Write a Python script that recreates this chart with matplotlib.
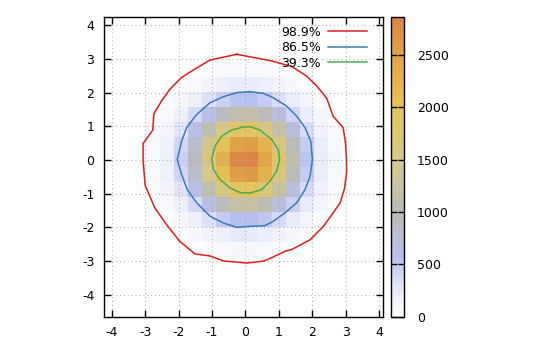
import numpy as np
import matplotlib
matplotlib.use("Agg")
import matplotlib.pyplot as plt
from matplotlib.colors import LinearSegmentedColormap

plt.rcParams['font.family'] = ['DejaVu Sans']
plt.rcParams['axes.unicode_minus'] = False

# histogram range (data extent) and 20x20 bin counts, rows from bottom (low y) to top
x_range = (-4.229, 4.119)
y_range = (-4.654, 4.256)
counts_rows = [
    [0, 0, 0, 0, 0, 0, 0, 0, 0, 1, 0, 0, 0, 0, 0, 0, 0, 0, 0, 0],
    [0, 0, 0, 0, 0, 0, 0, 1, 1, 2, 1, 1, 0, 0, 0, 0, 0, 0, 0, 0],
    [0, 0, 0, 0, 0, 1, 2, 3, 5, 4, 6, 4, 3, 1, 1, 0, 0, 0, 0, 0],
    [0, 0, 0, 1, 2, 4, 9, 14, 18, 24, 22, 21, 14, 10, 4, 2, 1, 0, 0, 0],
    [0, 0, 1, 2, 6, 14, 27, 47, 71, 82, 88, 70, 55, 31, 17, 7, 2, 1, 0, 0],
    [0, 0, 2, 6, 15, 40, 79, 141, 196, 247, 251, 211, 158, 92, 48, 20, 8, 2, 0, 0],
    [0, 1, 4, 13, 40, 94, 199, 338, 493, 590, 612, 521, 381, 226, 118, 49, 17, 5, 1, 0],
    [0, 2, 8, 27, 76, 191, 385, 675, 958, 1180, 1193, 1035, 739, 452, 226, 101, 34, 10, 3, 0],
    [1, 3, 13, 42, 127, 306, 641, 1091, 1583, 1914, 1968, 1681, 1224, 731, 375, 160, 57, 18, 4, 1],
    [1, 4, 17, 58, 165, 414, 842, 1466, 2093, 2561, 2604, 2252, 1612, 983, 491, 217, 76, 22, 5, 1],
    [1, 4, 18, 62, 185, 449, 932, 1597, 2307, 2812, 2868, 2457, 1781, 1069, 547, 233, 85, 26, 6, 1],
    [1, 4, 16, 57, 162, 407, 826, 1439, 2055, 2517, 2558, 2211, 1584, 964, 484, 214, 74, 23, 5, 1],
    [1, 3, 12, 40, 122, 296, 618, 1054, 1527, 1849, 1897, 1622, 1179, 706, 362, 154, 57, 16, 4, 1],
    [0, 2, 7, 24, 74, 177, 371, 632, 917, 1108, 1140, 974, 709, 423, 218, 92, 34, 9, 2, 0],
    [0, 1, 4, 12, 35, 90, 182, 320, 452, 558, 563, 491, 349, 215, 106, 48, 16, 5, 1, 0],
    [0, 0, 1, 5, 14, 37, 73, 129, 181, 226, 225, 198, 139, 86, 44, 18, 7, 2, 0, 0],
    [0, 0, 0, 2, 5, 11, 25, 41, 62, 71, 77, 63, 47, 27, 15, 6, 2, 1, 0, 0],
    [0, 0, 0, 0, 1, 3, 7, 11, 18, 21, 20, 17, 14, 8, 4, 2, 0, 0, 0, 0],
    [0, 0, 0, 0, 0, 1, 1, 3, 4, 5, 4, 4, 2, 2, 1, 0, 0, 0, 0, 0],
    [0, 0, 0, 0, 0, 0, 0, 1, 1, 1, 1, 0, 1, 0, 0, 0, 0, 0, 0, 0],
]

# contour paths (data coordinates)
c989_x = [-0.26, 0.05, 0.75, 1.38, 1.83, 2.13, 2.43, 2.62, 2.92, 2.99, 3.02, 3.02, 2.96, 2.83, 2.62,
          2.33, 1.93, 1.38, 1.18, 0.83, 0.55, 0.05, -0.65, -1.06, -1.51, -1.96, -2.36, -2.71, -3.00,
          -3.06, -3.06, -2.77, -2.74, -2.51, -2.26, -1.91, -1.56, -1.06, -0.26]
c989_y = [3.14, 3.08, 2.95, 2.78, 2.49, 2.20, 1.83, 1.30, 0.96, 0.50, 0.00, -0.38, -0.85, -1.27, -1.57,
          -1.97, -2.37, -2.66, -2.71, -2.88, -3.00, -3.06, -3.00, -2.85, -2.79, -2.42, -1.92, -1.42, -0.75,
          0.00, 0.49, 0.89, 1.37, 1.75, 2.10, 2.45, 2.67, 2.97, 3.14]
c865_x = [0.13, 0.53, 0.83, 1.23, 1.53, 1.78, 1.95, 2.00, 1.93, 1.78, 1.53, 1.18, 0.83, 0.58, 0.13,
          -0.26, -0.66, -1.06, -1.46, -1.74, -1.91, -2.04, -1.91, -1.76, -1.46, -1.06, -0.66, -0.26, 0.13]
c865_y = [2.03, 1.98, 1.85, 1.60, 1.30, 0.96, 0.56, 0.01, -0.48, -0.88, -1.27, -1.57, -1.82, -1.95, -1.97,
          -2.00, -1.87, -1.67, -1.27, -0.88, -0.43, 0.01, 0.56, 0.96, 1.35, 1.70, 1.88, 2.00, 2.03]
c393_x = [-0.11, 0.13, 0.43, 0.78, 0.98, 1.02, 0.93, 0.73, 0.48, 0.13, -0.16, -0.46, -0.76, -0.96,
          -1.01, -0.91, -0.71, -0.41, -0.11]
c393_y = [0.97, 0.99, 0.89, 0.61, 0.31, 0.02, -0.33, -0.63, -0.88, -0.98, -0.97, -0.83, -0.58, -0.28,
          0.03, 0.41, 0.71, 0.89, 0.97]
contour_labels = ['98.9%', '86.5%', '39.3%']
contour_colors = ['#e41a1c', '#377eb8', '#4daf4a']

cbar_ticks = [0, 500, 1000, 1500, 2000, 2500]
axis_ticks = [-4, -3, -2, -1, 0, 1, 2, 3, 4]

counts = np.array(counts_rows, dtype=float)
vmax = counts.max()
cmap = LinearSegmentedColormap.from_list('hist', [
    (0.0, '#ffffff'),
    (0.10, '#e4e7fa'),
    (0.20, '#b8c0f0'),
    (0.35, '#bcbcb6'),
    (0.52, '#d6c98c'),
    (0.70, '#e6c458'),
    (0.87, '#e2a448'),
    (1.0, '#db8446'),
])

W, H = 550, 350
fig = plt.figure(figsize=(W / 100, H / 100), dpi=100)
ax = fig.add_axes([104 / W, 33.3 / H, 279.3 / W, 300 / H])
cax = fig.add_axes([390.7 / W, 33.3 / H, 13.6 / W, 300 / H])

im = ax.imshow(counts, origin='lower', extent=[x_range[0], x_range[1], y_range[0], y_range[1]],
               cmap=cmap, vmin=0, vmax=vmax, interpolation='nearest', aspect='auto', zorder=0)

for xs, ys, lab, col in zip([c989_x, c865_x, c393_x], [c989_y, c865_y, c393_y],
                            contour_labels, contour_colors):
    ax.plot(xs, ys, color=col, lw=1.1, label=lab, zorder=3)

ax.set_xlim(*x_range)
ax.set_ylim(*y_range)
ax.set_xticks(axis_ticks)
ax.set_yticks(axis_ticks)
ax.grid(True, color='#aaaaaa', linestyle=(0, (1, 3)), linewidth=0.7, zorder=1)
ax.tick_params(direction='in', top=True, right=True, length=5, width=1, labelsize=9, pad=7)
for s in ax.spines.values():
    s.set_linewidth(1)

leg = ax.legend(loc='upper right', bbox_to_anchor=(0.9417, 0.97), frameon=False, markerfirst=False,
                fontsize=9, handlelength=3.1, handletextpad=0.6, labelspacing=0.2,
                borderpad=0, borderaxespad=0)

cb = fig.colorbar(im, cax=cax, ticks=cbar_ticks)
cax.tick_params(direction='in', left=True, right=True, length=4, width=1, labelsize=9, pad=9)
cb.outline.set_linewidth(1)

fig.savefig('out.png', dpi=100)
